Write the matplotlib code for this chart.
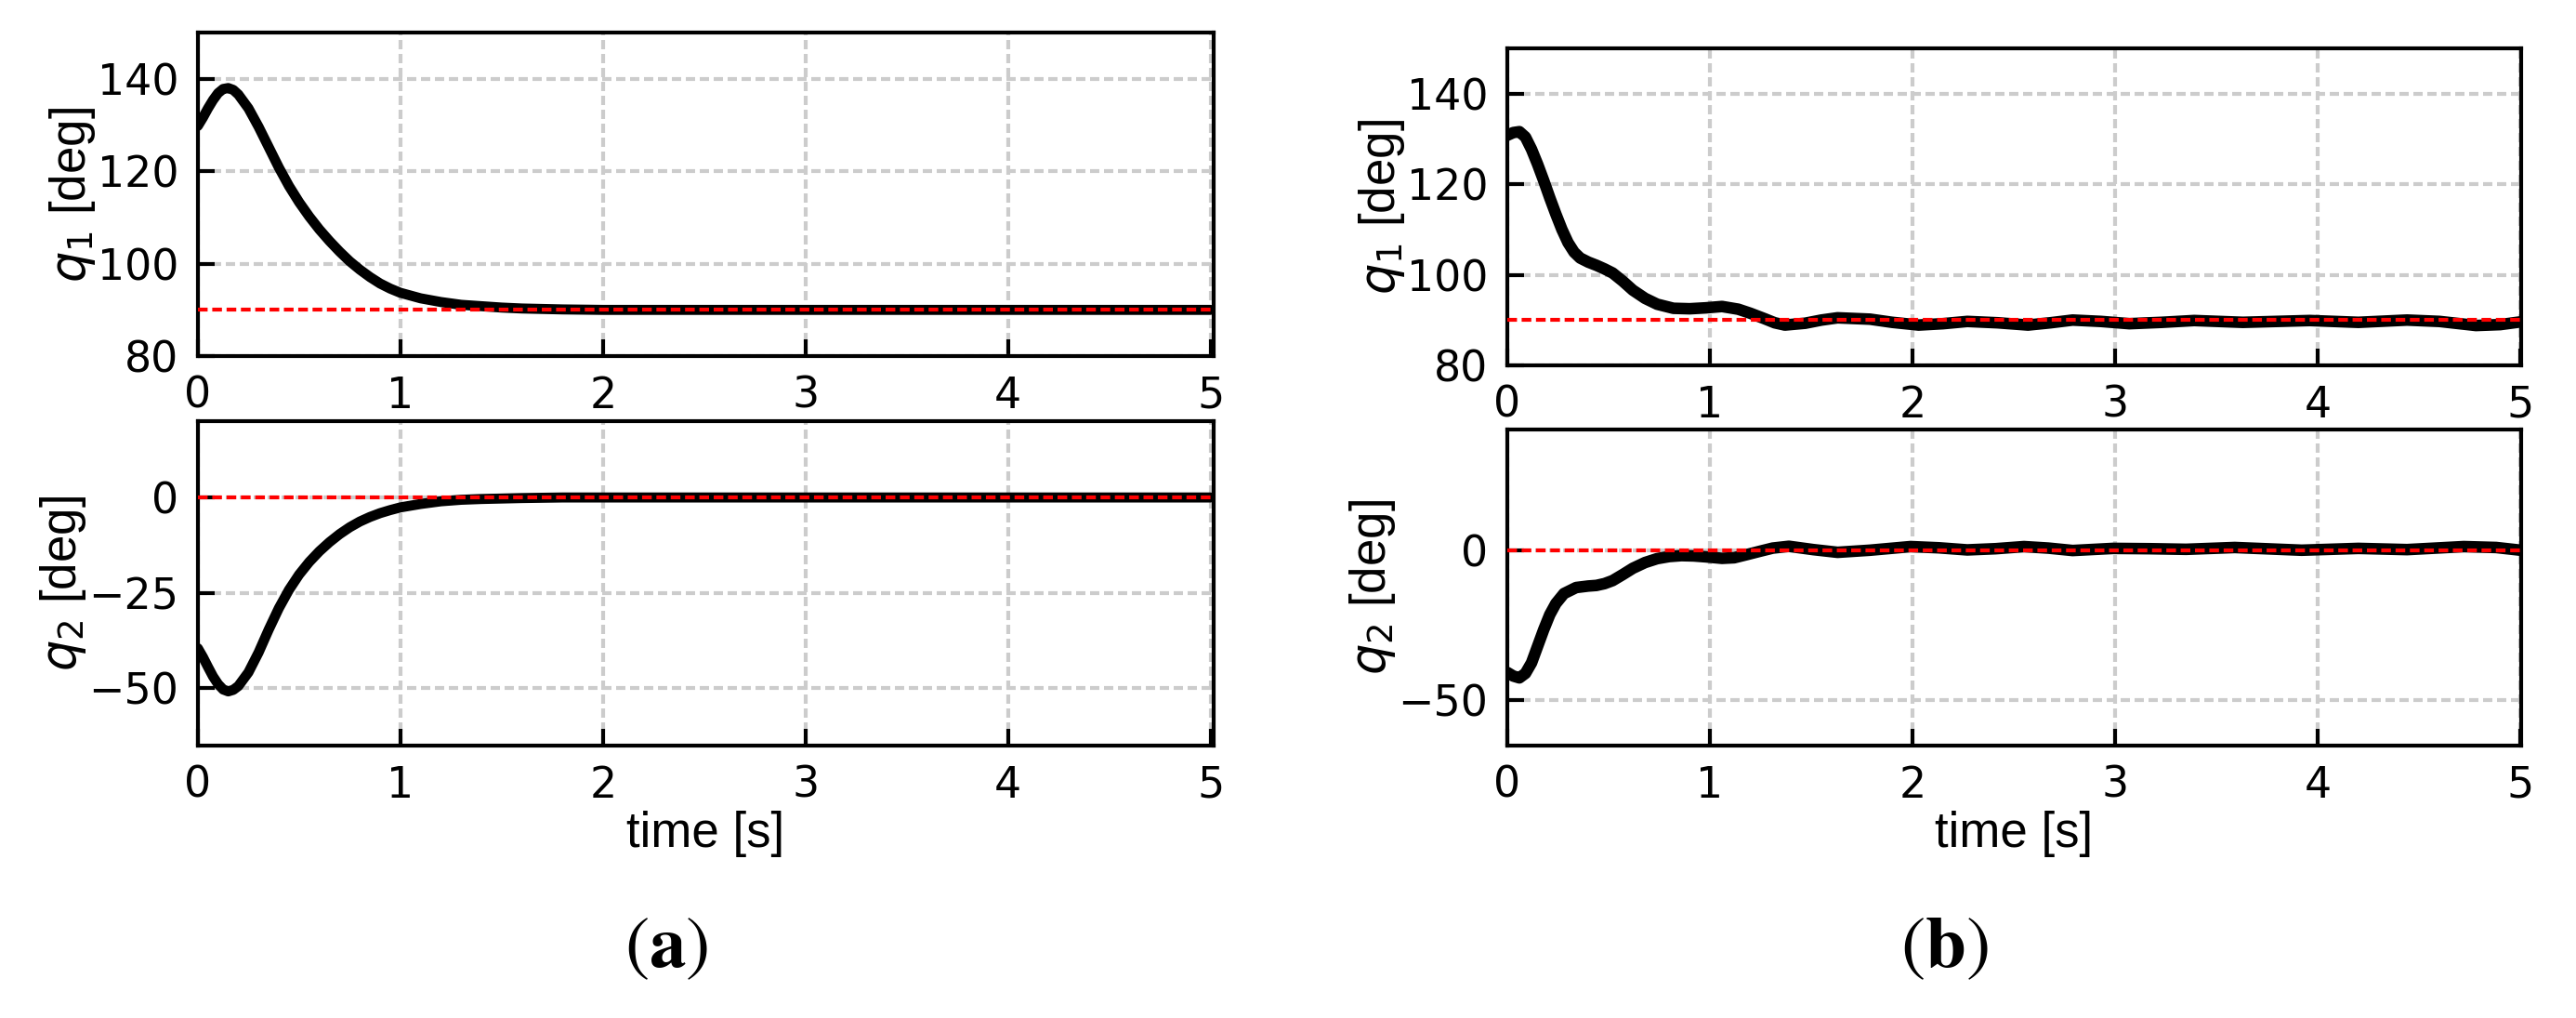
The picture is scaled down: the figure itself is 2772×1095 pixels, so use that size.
import matplotlib
matplotlib.use('Agg')
import matplotlib.pyplot as plt

# (a) joint trajectories, smooth case
t_a1 = [0.00, 0.025, 0.05, 0.075, 0.10, 0.125, 0.15, 0.175, 0.20, 0.25, 0.30, 0.35,
        0.40, 0.45, 0.50, 0.55, 0.60, 0.65, 0.70, 0.75, 0.80, 0.85, 0.90, 0.95,
        1.00, 1.10, 1.20, 1.30, 1.40, 1.50, 1.60, 1.80, 2.00, 5.00]
q1_a = [129.8, 131.6, 133.6, 135.4, 136.9, 137.8, 138.0, 137.6, 136.6, 133.6, 129.6, 125.2,
        120.8, 116.8, 113.3, 110.2, 107.4, 104.9, 102.6, 100.5, 98.7, 97.1, 95.7, 94.6,
        93.7, 92.5, 91.7, 91.1, 90.8, 90.5, 90.3, 90.1, 90.0, 90.0]
t_a2 = [0.00, 0.025, 0.05, 0.075, 0.10, 0.125, 0.15, 0.175, 0.20, 0.25, 0.30, 0.35,
        0.40, 0.45, 0.50, 0.55, 0.60, 0.65, 0.70, 0.75, 0.80, 0.85, 0.90, 0.95,
        1.00, 1.10, 1.20, 1.30, 1.40, 1.60, 1.80, 5.00]
q2_a = [-39.5, -41.8, -44.4, -46.9, -48.9, -50.3, -50.8, -50.4, -49.4, -45.8, -40.6, -34.6,
        -29.0, -24.2, -20.2, -16.9, -14.1, -11.7, -9.6, -7.8, -6.3, -5.1, -4.1, -3.3,
        -2.6, -1.7, -1.0, -0.6, -0.4, -0.15, 0.0, 0.0]

# (b) joint trajectories, experiment
t_b1 = [0.00, 0.03, 0.06, 0.09, 0.12, 0.15, 0.18, 0.21, 0.24, 0.27, 0.30, 0.33,
        0.36, 0.40, 0.44, 0.48, 0.52, 0.57, 0.62, 0.68, 0.74, 0.82, 0.90, 0.98,
        1.06, 1.14, 1.20, 1.27, 1.32, 1.37, 1.47, 1.55, 1.63, 1.79, 1.90, 2.03,
        2.15, 2.27, 2.42, 2.57, 2.68, 2.79, 2.93, 3.07, 3.23, 3.39, 3.63, 3.96,
        4.20, 4.44, 4.60, 4.78, 4.90, 5.00]
q1_b = [130.8, 131.4, 131.6, 130.4, 127.7, 124.4, 120.8, 117.0, 113.4, 110.0, 107.1, 105.0,
        103.7, 102.8, 102.1, 101.3, 100.4, 98.6, 96.6, 94.8, 93.5, 92.6, 92.5, 92.7,
        93.0, 92.4, 91.5, 90.3, 89.4, 88.9, 89.3, 90.0, 90.5, 90.2, 89.5, 88.9,
        89.2, 89.7, 89.4, 88.9, 89.4, 90.0, 89.7, 89.2, 89.5, 89.9, 89.5, 89.9,
        89.5, 90.0, 89.7, 88.8, 89.0, 89.6]
t_b2 = [0.00, 0.03, 0.06, 0.09, 0.12, 0.15, 0.18, 0.21, 0.24, 0.28, 0.34, 0.40,
        0.44, 0.48, 0.52, 0.57, 0.62, 0.68, 0.74, 0.80, 0.86, 0.92, 0.98, 1.06,
        1.12, 1.18, 1.25, 1.31, 1.39, 1.51, 1.63, 1.79, 1.99, 2.13, 2.27, 2.41,
        2.55, 2.67, 2.79, 2.99, 3.17, 3.35, 3.59, 3.92, 4.20, 4.44, 4.72, 4.88,
        5.00]
q2_b = [-40.7, -41.9, -42.5, -41.0, -37.5, -32.0, -26.5, -21.5, -17.8, -14.5, -12.5, -12.0,
        -11.8, -11.2, -10.2, -8.2, -6.1, -4.2, -2.9, -2.2, -1.9, -2.0, -2.3, -2.8,
        -2.6, -1.6, -0.4, 0.6, 1.2, 0.1, -0.8, -0.1, 1.1, 0.7, 0.0, 0.4,
        1.1, 0.6, -0.2, 0.5, 0.4, 0.2, 0.8, -0.1, 0.5, 0.1, 1.1, 0.8,
        -0.1]

q1_ref = 90
q2_ref = 0
xticks = [0, 1, 2, 3, 4, 5]

plt.rcParams['font.family'] = 'DejaVu Sans'
fig = plt.figure(figsize=(9.24, 3.65), dpi=300)

LABEL_FONT = 'Liberation Sans'


def style_ax(ax, yticks, ylim, xmax, ylabel):
    ax.set_xlim(0, xmax)
    ax.set_ylim(*ylim)
    ax.set_xticks(xticks)
    ax.set_yticks(yticks)
    ax.tick_params(direction='in', length=4.3, width=1, labelsize=11, pad=5)
    for s in ax.spines.values():
        s.set_linewidth(1)
    ax.set_axisbelow(True)
    ax.grid(True, color='#cccccc', linestyle=(0, (2.4, 1.2)), linewidth=1)
    ax.set_ylabel(ylabel, fontsize=12.7, family=LABEL_FONT, labelpad=0)


def draw(ax, t, q, ref, lw):
    ax.plot(t, q, color='black', lw=lw, solid_capstyle='round',
            solid_joinstyle='round', zorder=2)
    ax.axhline(ref, color='red', lw=1, dashes=(2.5, 1.2), zorder=3)


# panel (a)
ax1 = fig.add_axes([0.0768, 0.6502, 0.3943, 0.3178])
draw(ax1, t_a1, q1_a, q1_ref, 2.6)
style_ax(ax1, [80, 100, 120, 140], (80, 150), 5.015, r'$q_1$ [deg]')

ax2 = fig.add_axes([0.0768, 0.2676, 0.3943, 0.3187])
draw(ax2, t_a2, q2_a, q2_ref, 2.6)
style_ax(ax2, [-50, -25, 0], (-65, 20), 5.015, r'$q_2$ [deg]')
ax2.set_xlabel('time [s]', fontsize=12.7, family=LABEL_FONT, labelpad=1)

# panel (b)
ax3 = fig.add_axes([0.5851, 0.6411, 0.3936, 0.3114])
draw(ax3, t_b1, q1_b, q1_ref, 3.0)
style_ax(ax3, [80, 100, 120, 140], (80, 150), 5.003, r'$q_1$ [deg]')

ax4 = fig.add_axes([0.5851, 0.2676, 0.3936, 0.3105])
draw(ax4, t_b2, q2_b, q2_ref, 3.0)
style_ax(ax4, [-50, 0], (-65, 40), 5.003, r'$q_2$ [deg]')
ax4.set_xlabel('time [s]', fontsize=12.7, family=LABEL_FONT, labelpad=1)

# sub-captions
for x, letter in [(0.2587, 'a'), (0.7547, 'b')]:
    fig.text(x, 0.0703, r'$(\mathbf{%s})$' % letter, ha='center', va='center',
             fontsize=19, math_fontfamily='stix')

fig.savefig('out.png', dpi=300)
